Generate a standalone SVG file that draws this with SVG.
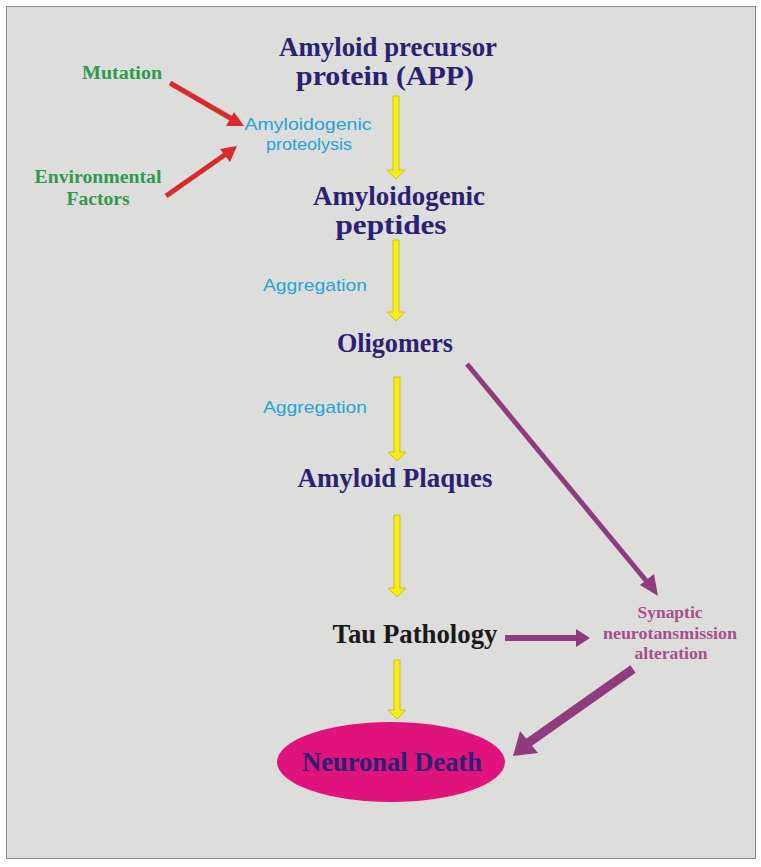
<svg xmlns="http://www.w3.org/2000/svg" width="761" height="867" viewBox="0 0 761 867">
<style>
.navy{font-family:"Liberation Serif","Times New Roman",serif;font-weight:bold;fill:#2a2173;text-anchor:middle;font-size:27px}
.green{font-family:"Liberation Serif","Times New Roman",serif;font-weight:bold;fill:#2f9a4c;text-anchor:middle;font-size:18px}
.cyan{font-family:"Liberation Sans",Arial,sans-serif;fill:#25a3d9;text-anchor:middle;font-size:17px}
.syn{font-family:"Liberation Serif","Times New Roman",serif;font-weight:bold;fill:#a5508a;text-anchor:middle;font-size:16px}
.yel{fill:#f7ec1a;stroke:#c9b800;stroke-width:0.8}
.red{stroke:#d92b2b;stroke-width:5;fill:none}
.redh{fill:#d92b2b}
.pur{stroke:#8f3c7e;fill:none}
.purh{fill:#8f3c7e}
</style>
<rect x="0" y="0" width="761" height="867" fill="#ffffff"/>
<rect x="6.5" y="6.5" width="749" height="852" fill="#dddddc" stroke="#8a8a8a" stroke-width="1"/>

<g id="connectors">
  <line class="red" x1="170" y1="83" x2="232" y2="119"/>
  <polygon class="redh" points="244,126 226,126 234,112"/>
  <line class="red" x1="166" y1="196" x2="226" y2="154"/>
  <polygon class="redh" points="237,146 230,162 220,149"/>
  <path class="yel" d="M393,96 H399 V170 H405 L396,179 L387,170 H393 Z"/>
  <path class="yel" d="M393,240 H399 V312 H405 L396,321 L387,312 H393 Z"/>
  <path class="yel" d="M394,377 H400 V452 H406 L397,461 L388,452 H394 Z"/>
  <path class="yel" d="M394,515 H400 V588 H406 L397,597 L388,588 H394 Z"/>
  <path class="yel" d="M394,660 H400 V710 H406 L397,719 L388,710 H394 Z"/>
  <line class="pur" stroke-width="5" x1="467" y1="364" x2="648" y2="583"/>
  <polygon class="purh" points="658,596 640,585 654,574"/>
  <line class="pur" stroke-width="6" x1="505" y1="638" x2="577" y2="638"/>
  <polygon class="purh" points="590,638 576,629 576,647"/>
  <line class="pur" stroke-width="9" x1="633" y1="669" x2="528" y2="743"/>
  <polygon class="purh" points="513,756 520,731 538,753"/>
</g>

<g id="app">
  <text class="navy" x="388" y="56" textLength="218" lengthAdjust="spacingAndGlyphs">Amyloid precursor</text>
  <text class="navy" x="385" y="85" textLength="178" lengthAdjust="spacingAndGlyphs">protein (APP)</text>
</g>
<g id="mutation"><text class="green" x="122" y="79" textLength="80" lengthAdjust="spacingAndGlyphs">Mutation</text></g>
<g id="environmental">
  <text class="green" x="98" y="183" textLength="127" lengthAdjust="spacingAndGlyphs">Environmental</text>
  <text class="green" x="98" y="205" textLength="63" lengthAdjust="spacingAndGlyphs">Factors</text>
</g>
<g id="proteolysis">
  <text class="cyan" x="308" y="130" textLength="127" lengthAdjust="spacingAndGlyphs">Amyloidogenic</text>
  <text class="cyan" x="309" y="150" textLength="86" lengthAdjust="spacingAndGlyphs">proteolysis</text>
</g>
<g id="peptides">
  <text class="navy" x="399" y="205" textLength="172" lengthAdjust="spacingAndGlyphs">Amyloidogenic</text>
  <text class="navy" x="391" y="234" textLength="111" lengthAdjust="spacingAndGlyphs">peptides</text>
</g>
<g id="aggregation1"><text class="cyan" x="315" y="291" textLength="104" lengthAdjust="spacingAndGlyphs">Aggregation</text></g>
<g id="oligomers"><text class="navy" x="395" y="352" textLength="116" lengthAdjust="spacingAndGlyphs">Oligomers</text></g>
<g id="aggregation2"><text class="cyan" x="315" y="413" textLength="104" lengthAdjust="spacingAndGlyphs">Aggregation</text></g>
<g id="plaques"><text class="navy" x="395" y="487" textLength="195" lengthAdjust="spacingAndGlyphs">Amyloid Plaques</text></g>
<g id="tau"><text class="navy" x="415" y="643" textLength="165" lengthAdjust="spacingAndGlyphs" style="fill:#1a1a1a">Tau Pathology</text></g>
<g id="synaptic">
  <text class="syn" x="670" y="618" textLength="65" lengthAdjust="spacingAndGlyphs">Synaptic</text>
  <text class="syn" x="670" y="639" textLength="134" lengthAdjust="spacingAndGlyphs">neurotansmission</text>
  <text class="syn" x="671" y="659" textLength="73" lengthAdjust="spacingAndGlyphs">alteration</text>
</g>
<g id="death">
  <ellipse cx="391" cy="762" rx="114" ry="40" fill="#e0127c"/>
  <text class="navy" x="392" y="771" font-size="26" textLength="180" lengthAdjust="spacingAndGlyphs">Neuronal Death</text>
</g>
</svg>
